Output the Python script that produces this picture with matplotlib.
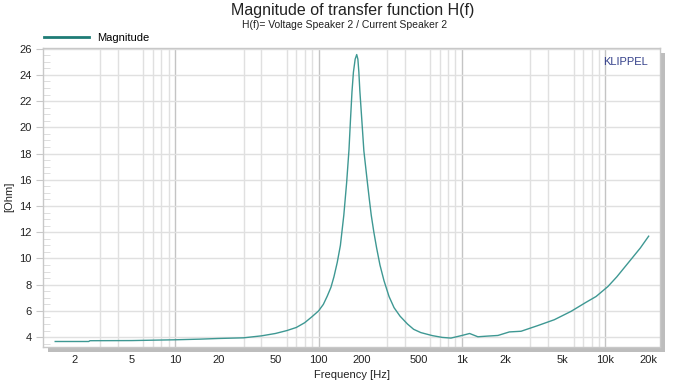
import numpy as np
import matplotlib
matplotlib.use("Agg")
import matplotlib.pyplot as plt
from matplotlib.lines import Line2D
from matplotlib.patches import Rectangle
from matplotlib.ticker import FixedLocator, LogLocator, MultipleLocator, NullFormatter

plt.rcParams["font.family"] = ["Liberation Sans", "DejaVu Sans"]

# impedance magnitude
FREQ = [1.46, 2.5, 2.55, 5, 7.8, 10, 15, 20, 30, 40, 50, 60, 70, 80, 90, 100,
        108, 115, 122, 128, 135, 142, 150, 157, 163, 167, 171, 175, 180, 184.5,
        188, 191, 194, 201, 207, 219, 226, 233, 243, 254, 268, 286, 310, 336,
        370, 417, 460, 516, 620, 730, 837, 1000, 1130, 1290, 1500, 1780, 2140,
        2580, 3370, 4400, 5760, 7300, 8600, 10400, 12000, 15000, 17500, 20000]
OHM = [3.67, 3.67, 3.73, 3.74, 3.78, 3.80, 3.85, 3.90, 3.95, 4.10, 4.28, 4.50,
       4.74, 5.10, 5.56, 6.00, 6.50, 7.13, 7.80, 8.60, 9.70, 11.0, 13.3, 15.8,
       18.3, 20.6, 22.7, 24.2, 25.2, 25.55, 25.2, 24.2, 22.8, 20.3, 18.2, 15.8,
       14.5, 13.3, 12.0, 10.8, 9.5, 8.3, 7.1, 6.25, 5.6, 5.0, 4.6, 4.35, 4.12,
       3.98, 3.93, 4.13, 4.28, 4.03, 4.08, 4.13, 4.40, 4.45, 4.88, 5.33, 5.97,
       6.65, 7.10, 7.86, 8.60, 9.90, 10.8, 11.7]

X_TICKS = [2, 5, 10, 20, 50, 100, 200, 500, 1000, 2000, 5000, 10000, 20000]
X_LABELS = ["2", "5", "10", "20", "50", "100", "200", "500", "1k", "2k", "5k", "10k", "20k"]
DECADES = [10, 100, 1000, 10000]

W, H = 691, 385
fig = plt.figure(figsize=(W / 100, H / 100), dpi=100)
left, right, top, bottom = 43, 660, 48, 347
ax = fig.add_axes([left / W, 1 - bottom / H, (right - left) / W, (bottom - top) / H])

# grey drop shadow on right/bottom edge
fig.add_artist(Rectangle(((left + 5) / W, 1 - (bottom + 5) / H),
                         (right - left) / W, (bottom - top) / H,
                         transform=fig.transFigure, facecolor="#bdbdbd",
                         edgecolor="none", zorder=-1))

ax.plot(FREQ, OHM, color="#3e9893", lw=1.0, zorder=3)

ax.set_xscale("log")
ax.set_xlim(1.2, 24000)
ax.set_ylim(3.25, 26.05)

ax.xaxis.set_major_locator(FixedLocator(X_TICKS))
ax.set_xticklabels(X_LABELS)
ax.xaxis.set_minor_locator(LogLocator(base=10, subs=np.arange(1, 10), numticks=30))
ax.xaxis.set_minor_formatter(NullFormatter())
ax.tick_params(axis="x", which="both", length=0, pad=6, labelsize=8, labelcolor="#222222")

ax.yaxis.set_major_locator(MultipleLocator(2))
ax.yaxis.set_minor_locator(MultipleLocator(0.5))
ax.set_yticks(range(4, 27, 2))
ax.tick_params(axis="y", which="major", length=5, color="#c8c8c8", direction="out",
               labelsize=8, labelcolor="#222222", pad=3)
ax.tick_params(axis="y", which="minor", length=5, color="#d8d8d8", direction="in")

ax.grid(False)
ax.grid(True, axis="x", which="minor", color="#e0e0e0", lw=1.0, zorder=0)
ax.grid(True, axis="y", which="major", color="#e0e0e0", lw=1.0, zorder=0)
for d in DECADES:
    ax.axvline(d, color="#c4c4c4", lw=1.0, zorder=1)

for s in ax.spines.values():
    s.set_color("#c8c8c8")
    s.set_linewidth(1.0)

ax.set_xlabel("Frequency [Hz]", fontsize=8, color="#222222", labelpad=3)
fig.text(9 / W, 1 - 197 / H, "[Ohm]", rotation=90, ha="center", va="center",
         fontsize=8, color="#222222")

fig.text(353 / W, 1 - 11 / H, "Magnitude of transfer function H(f)",
         ha="center", va="center", fontsize=11.5, color="#222222")
fig.text(345 / W, 1 - 25 / H, "H(f)= Voltage Speaker 2 / Current Speaker 2",
         ha="center", va="center", fontsize=7.5, color="#222222")

ax.text(0.98, 0.953, "KLIPPEL", transform=ax.transAxes, ha="right", va="center",
        fontsize=8, color="#34408a")

handle = Line2D([], [], color="#1e7c76", lw=2)
ax.legend([handle], ["Magnitude"], loc="lower left", bbox_to_anchor=(0.0, 1.012),
          frameon=False, fontsize=8, handlelength=4.0, handletextpad=0.8,
          borderaxespad=0, borderpad=0.1)

fig.savefig("out.png", dpi=100)
